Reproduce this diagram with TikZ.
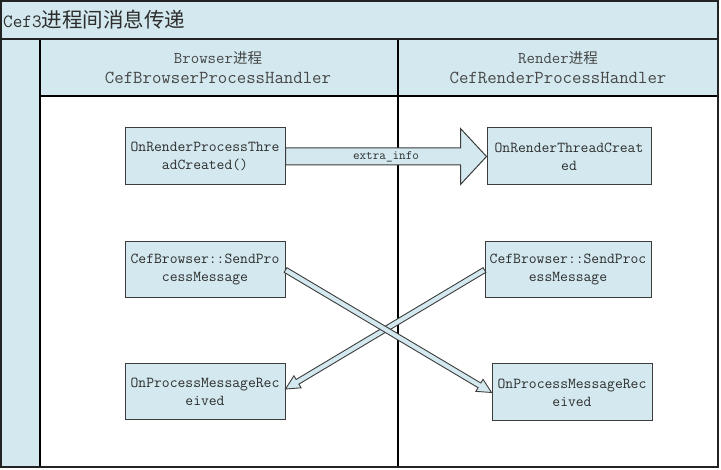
\documentclass[tikz,border=0pt]{standalone}
\usepackage{fontspec}
\usetikzlibrary{calc}
\newfontfamily\lmono{Latin Modern Mono}
\newfontfamily\cjk{Noto Sans CJK SC}
\definecolor{lanefill}{RGB}{211,233,239}
\definecolor{linec}{RGB}{35,35,35}
\definecolor{boxline}{RGB}{60,60,60}
\definecolor{textc}{RGB}{45,45,45}
\definecolor{hdrtext}{RGB}{70,70,70}
\begin{document}
\begin{tikzpicture}[x=1pt,y=-1pt,
  frameline/.style={draw=linec, line width=2pt},
  laneline/.style={draw=black, line width=1.3pt},
  boxnode/.style={draw=boxline, line width=1pt, fill=lanefill, minimum width=160pt,
    minimum height=57pt, inner sep=0pt, align=center, text=textc,
    font=\lmono\fontsize{15.2}{18}\selectfont},
  hdrnode/.style={inner sep=0pt, text=hdrtext, align=center},
  fatarrow/.style={draw=boxline, line width=1pt, fill=lanefill},
  hollowarrow/.style={draw=boxline, line width=0.9pt, fill=lanefill, line join=miter}]
\useasboundingbox (0,0) rectangle (721,470);
\fill[white] (0,0) rectangle (721,470);
% swimlane frame
\fill[lanefill] (1,1) rectangle (718,39);
\fill[lanefill] (1,39) rectangle (40,467);
\fill[lanefill] (40,39) rectangle (718,96);
\draw[laneline] (40,39) -- (40,467);
\draw[laneline] (398,39) -- (398,467);
\draw[laneline] (40,96) -- (718,96);
\draw[frameline] (1,39) -- (718,39);
\draw[frameline] (1,1) rectangle (718,467);
% title
\node[hdrnode, anchor=west, text=textc] (title) at (3,20)
  {{\lmono\fontsize{18.7}{20}\selectfont Cef3}{\cjk\fontsize{20.5}{20}\selectfont 进程间消息传递}};
% lane headers
\node[hdrnode] (h1a) at (218,58) {{\lmono\fontsize{16.4}{16}\selectfont Browser}{\cjk\fontsize{14.5}{16}\selectfont 进程}};
\node[hdrnode] (h1b) at (218,78) {\lmono\fontsize{18.3}{16}\selectfont CefBrowserProcessHandler};
\node[hdrnode] (h2a) at (558,58) {{\lmono\fontsize{16.4}{16}\selectfont Render}{\cjk\fontsize{14.5}{16}\selectfont 进程}};
\node[hdrnode] (h2b) at (558,78) {\lmono\fontsize{18.3}{16}\selectfont CefRenderProcessHandler};
% boxes
\node[boxnode] (b1) at (205,156.5) {OnRenderProcessThre\\adCreated()};
\node[boxnode, minimum width=164pt] (b2) at (569,156.5) {OnRenderThreadCreat\\ed};
\node[boxnode, minimum height=56pt] (b3) at (205,270) {CefBrowser::SendPro\\cessMessage};
\node[boxnode, minimum width=166pt, minimum height=56pt] (b4) at (568,270) {CefBrowser::SendProc\\essMessage};
\node[boxnode, minimum height=56pt] (b5) at (205,392) {OnProcessMessageRec\\eived};
\node[boxnode] (b6) at (572,392.5) {OnProcessMessageRec\\eived};
% fat arrow b1 -> b2
\coordinate (fa) at (b1.east);
\coordinate (fb) at (b2.west);
\filldraw[fatarrow] ($(fa)+(0,-8.5)$) -- ($(fb)+(-26,-8.5)$) -- ($(fb)+(-26,-28)$) -- (fb)
  -- ($(fb)+(-26,28)$) -- ($(fb)+(-26,8.5)$) -- ($(fa)+(0,8.5)$) -- cycle;
\node[inner sep=0pt, text=textc, font=\lmono\fontsize{12.8}{12}\selectfont] (lbl)
  at ($(fa)!0.5!(fb)$) {extra\_info};
% hollow arrow b4 -> b5
\coordinate (qA) at (b4.west);
\coordinate (qB) at ($(b5.east)+(0,-3)$);
\coordinate (qH) at ($(qB)!14pt!(qA)$);
\filldraw[hollowarrow] ($(qA)!2.7pt!90:(qB)$) -- ($(qH)!2.7pt!90:(qB)$) -- ($(qH)!7pt!90:(qB)$) -- (qB)
  -- ($(qH)!7pt!-90:(qB)$) -- ($(qH)!2.7pt!-90:(qB)$) -- ($(qA)!2.7pt!-90:(qB)$) -- cycle;
% hollow arrow b3 -> b6
\coordinate (pA) at (b3.east);
\coordinate (pB) at (b6.west);
\coordinate (pH) at ($(pB)!14pt!(pA)$);
\filldraw[hollowarrow] ($(pA)!2.7pt!90:(pB)$) -- ($(pH)!2.7pt!90:(pB)$) -- ($(pH)!7pt!90:(pB)$) -- (pB)
  -- ($(pH)!7pt!-90:(pB)$) -- ($(pH)!2.7pt!-90:(pB)$) -- ($(pA)!2.7pt!-90:(pB)$) -- cycle;
\end{tikzpicture}
\end{document}
